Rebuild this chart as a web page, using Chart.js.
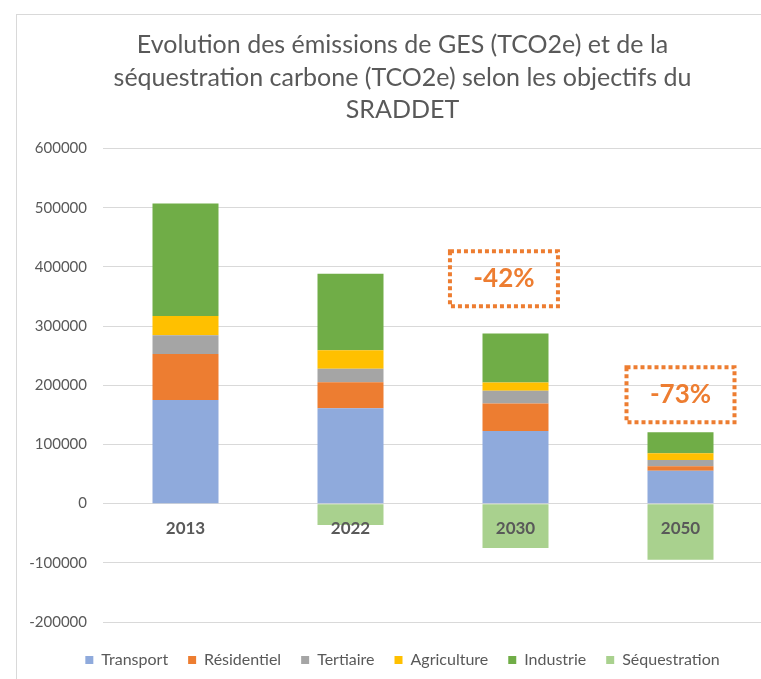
<!DOCTYPE html>
<html>
<head>
<meta charset="utf-8">
<script src="https://cdn.jsdelivr.net/npm/chart.js@4.4.0/dist/chart.umd.min.js"></script>
<style>
  html, body { margin: 0; padding: 0; background: #fff; overflow: hidden; width: 761px; height: 679px; }
  #frame { position: absolute; left: 16px; top: 14px; width: 772px; height: 680px; border: 1px solid #d9d9d9; box-sizing: border-box; }
  #frame canvas { display: block; }
</style>
</head>
<body>
<div id="frame"><canvas id="chart" width="770" height="678"></canvas></div>
<script>
const years = ['2013', '2022', '2030', '2050'];
const transport = [175000, 161000, 122600, 55600];
const residentiel = [78000, 44000, 46700, 7400];
const tertiaire = [31500, 23000, 21300, 10700];
const agriculture = [32500, 31000, 14100, 11300];
const industrie = [190000, 129500, 82600, 35400];
const sequestration = [0, -36000, -75000, -95000];
const yTicks = [-200000, -100000, 0, 100000, 200000, 300000, 400000, 500000, 600000];

// annotation boxes: label, category position (index), value at box centre
const annotationLabels = ['-42%', '-73%'];
const annotationX = [1.93, 3.0];
const annotationY = [380000, 184000];

const textColor = '#595959';

const annotationPlugin = {
  id: 'reductionBoxes',
  afterDatasetsDraw(chart) {
    const ctx = chart.ctx;
    const xs = chart.scales.x;
    const ys = chart.scales.y;
    ctx.save();
    annotationLabels.forEach((label, i) => {
      const cx = xs.getPixelForValue(annotationX[i]);
      const cy = ys.getPixelForValue(annotationY[i]);
      const w = 108, h = 55;
      ctx.strokeStyle = '#ED7D31';
      ctx.lineWidth = 4;
      ctx.setLineDash([4, 3]);
      ctx.strokeRect(cx - w / 2, cy - h / 2, w, h);
      ctx.setLineDash([]);
      ctx.fillStyle = '#ED7D31';
      ctx.font = 'bold 26px Lato';
      ctx.textAlign = 'center';
      ctx.textBaseline = 'middle';
      ctx.fillText(label, cx, cy);
    });
    ctx.restore();
  }
};

function dataset(label, data, color) {
  return {
    label: label,
    data: data,
    backgroundColor: color,
    borderWidth: 0,
    barPercentage: 0.4,
    categoryPercentage: 1.0
  };
}

new Chart(document.getElementById('chart').getContext('2d'), {
  type: 'bar',
  data: {
    labels: years,
    datasets: [
      dataset('Transport', transport, '#8FAADC'),
      dataset('Résidentiel', residentiel, '#ED7D31'),
      dataset('Tertiaire', tertiaire, '#A5A5A5'),
      dataset('Agriculture', agriculture, '#FFC000'),
      dataset('Industrie', industrie, '#70AD47'),
      dataset('Séquestration', sequestration, '#A9D18E')
    ]
  },
  options: {
    responsive: false,
    animation: false,
    layout: { padding: { left: 25, right: 24, top: 0, bottom: 15 } },
    plugins: {
      title: {
        display: true,
        text: ['Evolution des émissions de GES (TCO2e) et de la',
               'séquestration carbone (TCO2e) selon les objectifs du',
               'SRADDET'],
        color: textColor,
        font: { family: 'Lato', size: 25, weight: 'normal', lineHeight: 1.3 },
        padding: { top: 14, bottom: 22 }
      },
      legend: {
        position: 'bottom',
        labels: {
          color: textColor,
          font: { family: 'Lato', size: 16 },
          boxWidth: 8,
          boxHeight: 8,
          padding: 20
        }
      },
      tooltip: { enabled: false }
    },
    scales: {
      x: {
        stacked: true,
        position: { y: 0 },
        grid: { display: false },
        border: { display: false },
        ticks: {
          z: 1,
          color: textColor,
          padding: 7,
          font: { family: 'Lato', size: 17, weight: 'bold' }
        }
      },
      // empty band that keeps the legend away from the plot
      gap: {
        type: 'category',
        position: 'bottom',
        grid: { display: false },
        border: { display: false },
        ticks: { display: false },
        afterFit(axis) { axis.height = 10; }
      },
      y: {
        stacked: true,
        min: -200000,
        max: 600000,
        afterBuildTicks(axis) {
          axis.ticks = yTicks.map(v => ({ value: v }));
        },
        afterFit(axis) {
          // narrow axis box, labels may spill into the left padding
          axis.width = 61;
          axis._computeLabelArea = () => undefined;
        },
        grid: { color: '#d9d9d9', lineWidth: 1, drawTicks: false },
        border: { display: false },
        ticks: {
          color: textColor,
          padding: 16,
          font: { family: 'Lato', size: 15 },
          callback: v => String(v)
        }
      }
    }
  },
  plugins: [annotationPlugin]
});
</script>
</body>
</html>
